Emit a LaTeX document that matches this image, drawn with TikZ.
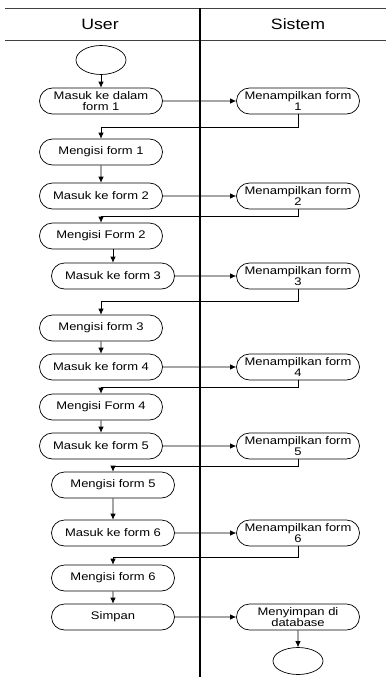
\documentclass[tikz,border=0pt]{standalone}
\usepackage{fontspec}
\setmainfont{Liberation Sans}[FakeStretch=1.18]
\usetikzlibrary{arrows.meta,shapes.misc,shapes.geometric}

\begin{document}
\begin{tikzpicture}[->,>={Latex[length=6pt,width=5.5pt]},x=1pt,y=1pt,node distance=40pt,
                    line width=0.7pt,
                    act/.style={draw,fill=white,rounded rectangle,minimum width=123pt,
                                minimum height=26pt,inner sep=0pt,align=center,
                                font=\fontsize{11}{11}\selectfont},
                    endpt/.style={draw,fill=white,ellipse,minimum width=50pt,
                                  minimum height=29pt,inner sep=0pt},
                    lane/.style={-,draw=black!75}]

 \useasboundingbox (0,0) rectangle (386,-677);

 % swimlanes
 \draw[lane] (5,-8) -- (386,-8);
 \draw[lane] (5,-40) -- (386,-40);
 \draw[-,line width=1.4pt] (200,-8) -- (200,-677);
 \node[font=\fontsize{15}{15}\selectfont] (user)   at (100,-24) {User};
 \node[font=\fontsize{15}{15}\selectfont] (sistem) at (298,-24) {Sistem};

 % user
 \node[endpt] (start) at (101,-60) {};
 \node[act] (m1) [below of=start,node distance=41pt] {Masuk ke dalam\\form 1};
 \node[act] (i1) [below of=m1,node distance=51pt] {Mengisi form 1};
 \node[act] (m2) [below of=i1,node distance=44pt] {Masuk ke form 2};
 \node[act] (i2) [below of=m2] {Mengisi Form 2};
 \node[act] (m3) [below of=i2,xshift=12pt] {Masuk ke form 3};
 \node[act] (i3) [below of=m3,node distance=52pt,xshift=-12pt] {Mengisi form 3};
 \node[act] (m4) [below of=i3,node distance=39pt] {Masuk ke form 4};
 \node[act] (i4) [below of=m4] {Mengisi Form 4};
 \node[act] (m5) [below of=i4,node distance=39pt] {Masuk ke form 5};
 \node[act] (i5) [below of=m5,node distance=39pt,xshift=12pt] {Mengisi form 5};
 \node[act] (m6) [below of=i5,node distance=48pt] {Masuk ke form 6};
 \node[act] (i6) [below of=m6,node distance=45pt] {Mengisi form 6};
 \node[act] (simpan) [below of=i6,node distance=39pt] {Simpan};

 % sistem
 \node[act] (s1) [right of=m1,node distance=197pt] {Menampilkan form\\1};
 \node[act] (s2) [right of=m2,node distance=197pt] {Menampilkan form\\2};
 \node[act] (s3) [right of=m3,node distance=185pt] {Menampilkan form\\3};
 \node[act] (s4) [right of=m4,node distance=197pt] {Menampilkan form\\4};
 \node[act] (s5) [right of=m5,node distance=197pt] {Menampilkan form\\5};
 \node[act] (s6) [right of=m6,node distance=185pt] {Menampilkan form\\6};
 \node[act] (db) [right of=simpan,node distance=185pt] {Menyimpan di\\database};
 \node[endpt,minimum height=27pt] (end) [below of=db,node distance=44pt] {};

 \draw (start) -- (m1);
 \draw (m1) -- (s1);
 \draw (s1.south) -- ++(0,-13) -| (i1.north);
 \draw (i1) -- (m2);
 \draw (m2) -- (s2);
 \draw (s2.south) -- ++(0,-7) -| (i2.north);
 \draw (i2.south -| m3.north) -- (m3.north);
 \draw (m3) -- (s3);
 \draw (s3.south) -- ++(0,-12) -| (i3.north);
 \draw (i3) -- (m4);
 \draw (m4) -- (s4);
 \draw (s4.south) -- ++(0,-7) -| (i4.north);
 \draw (i4) -- (m5);
 \draw (m5) -- (s5);
 \draw (s5.south) -- ++(0,-7) -| (i5.north);
 \draw (i5) -- (m6);
 \draw (m6) -- (s6);
 \draw (s6.south) -- ++(0,-11) -| (i6.north);
 \draw (i6) -- (simpan);
 \draw (simpan) -- (db);
 \draw (db) -- (end);

\end{tikzpicture}
\end{document}
